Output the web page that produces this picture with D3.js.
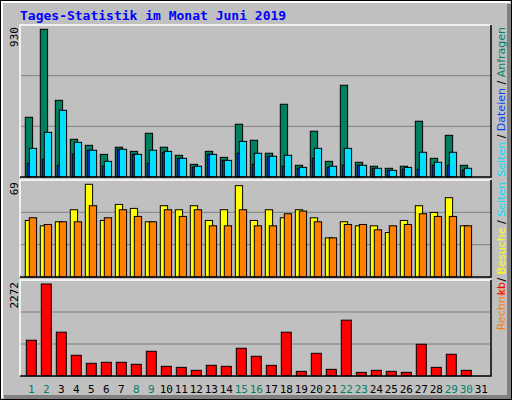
<!DOCTYPE html>
<html><head><meta charset="utf-8">
<script src="https://cdn.jsdelivr.net/npm/d3@7"></script>
<style>body{margin:0;background:#fff}</style>
</head><body><div id="root"></div>
<script>
const days = d3.range(1, 32);
const weekend = [1, 2, 8, 9, 15, 16, 22, 23, 29, 30];
const hits  = [375,930,482,236,198,141,186,160,274,186,135,78,160,122,331,230,148,457,72,287,97,577,91,66,53,66,350,116,261,72,0];
const files = [85,110,72,143,167,66,173,141,85,153,116,59,141,103,148,78,129,66,53,116,59,72,72,53,40,47,47,72,72,40,0];
const pages = [179,280,419,217,167,97,173,141,167,160,116,66,141,103,223,148,129,135,59,179,66,179,72,53,40,59,154,91,154,53,0];
const visits = [42,38,41,50,69,42,54,51,41,53,50,53,42,50,68,42,50,44,50,44,29,41,38,38,33,42,53,48,59,38,0];
const sites  = [44,39,41,41,53,44,50,45,41,50,45,50,38,38,50,38,38,47,49,41,29,39,39,35,38,39,47,45,45,38,0];
const kbytes = [879,2272,1078,506,307,332,332,282,605,232,207,133,257,232,680,481,257,1078,108,555,158,1376,83,133,108,83,779,207,531,133,0];

const W = 512, H = 400, L = 20, R = 491;
const svg = d3.select('#root').append('svg').attr('width', W).attr('height', H)
    .style('font-family', 'DejaVu Sans Mono, monospace');

// frame
svg.append('rect').attr('x', 0).attr('y', 0).attr('width', W).attr('height', H).attr('fill', '#c0c0c0');
svg.append('rect').attr('x', 0.5).attr('y', 0.5).attr('width', W - 1).attr('height', H - 1)
    .attr('fill', 'none').attr('stroke', '#000');
svg.append('path').attr('d', `M2,${H - 2}V2H${W - 2}`).attr('stroke', '#fff').attr('stroke-width', 2).attr('fill', 'none');
svg.append('path').attr('d', `M4,${H - 3}H${W - 3}V4`).attr('stroke', '#808080').attr('stroke-width', 4).attr('fill', 'none');

svg.append('text').attr('x', 20).attr('y', 20).attr('fill', '#0000ff')
    .style('font-size', '13px').style('font-weight', 'bold')
    .text('Tages-Statistik im Monat Juni 2019');

const x = d3.scaleLinear().domain([1, 32]).range([25.3, 490.3]);

const panels = [
    {top: 25, bottom: 177, max: 930, maxY: 29.3},
    {top: 180, bottom: 277, max: 69, maxY: 184.3},
    {top: 280, bottom: 376, max: 2272, maxY: 284}
];

panels.forEach(p => {
    p.y = d3.scaleLinear().domain([0, p.max]).range([p.bottom - 0.3, p.maxY]);
    const g = svg.append('g');
    const h = p.bottom - p.top;
    [1, 2].forEach(k => g.append('line').attr('x1', L).attr('x2', R)
        .attr('y1', p.top + h * k / 3).attr('y2', p.top + h * k / 3)
        .attr('stroke', '#808080').attr('stroke-width', 1));
    g.append('path').attr('d', `M${L},${p.bottom}V${p.top}H${R}`).attr('stroke', '#fff').attr('stroke-width', 1.5).attr('fill', 'none');
    g.append('path').attr('d', `M${L},${p.bottom}H${R}V${p.top}`).attr('stroke', '#000').attr('stroke-width', 1.5).attr('fill', 'none');
    svg.append('text').attr('transform', `translate(18,${p.top + 2}) rotate(-90)`)
        .attr('text-anchor', 'end').style('font-size', '11px').attr('fill', '#000')
        .text(p.max);
});

function bars(data, p, dx, w, color) {
    svg.append('g').selectAll('rect').data(data.map((v, i) => ({v, d: days[i]})).filter(o => o.v > 0))
        .join('rect')
        .attr('x', o => x(o.d) + dx).attr('width', w)
        .attr('y', o => p.y(o.v)).attr('height', o => p.y(0) - p.y(o.v))
        .attr('fill', color).attr('stroke', '#000').attr('stroke-width', 1);
}

bars(hits, panels[0], 0, 7.3, '#008060');
bars(files, panels[0], 2, 3, '#0040ff');
bars(pages, panels[0], 4, 7.3, '#00e0ff');
bars(visits, panels[1], 0, 7.3, '#ffff00');
bars(sites, panels[1], 4, 7.3, '#ff8000');
bars(kbytes, panels[2], 1, 10, '#ff0000');

svg.append('g').selectAll('text').data(days).join('text')
    .attr('x', d => x(d) + 6).attr('y', 393).attr('text-anchor', 'middle')
    .style('font-size', '11px')
    .attr('fill', d => weekend.includes(d) ? '#008060' : '#000')
    .text(d => d);

// right legends
function legend(parts, yEnd) {
    const t = svg.append('text').attr('transform', `translate(505,${yEnd}) rotate(-90)`)
        .attr('text-anchor', 'end').style('font-size', '11px')
        .style('font-family', 'DejaVu Sans, sans-serif');
    parts.forEach(([s, c]) => t.append('tspan').attr('fill', c).text(s));
}
legend([['Seiten', '#00e0ff'], [' / ', '#000'], ['Dateien', '#0040ff'], [' / ', '#000'], ['Anfragen', '#008060']], 27);
legend([['Rechner', '#ff8000'], [' / ', '#000'], ['Besuche', '#ffff00'], [' / ', '#000'], ['Seiten', '#00e0ff']], 182);
legend([['kb', '#ff0000']], 282);
</script></body></html>
